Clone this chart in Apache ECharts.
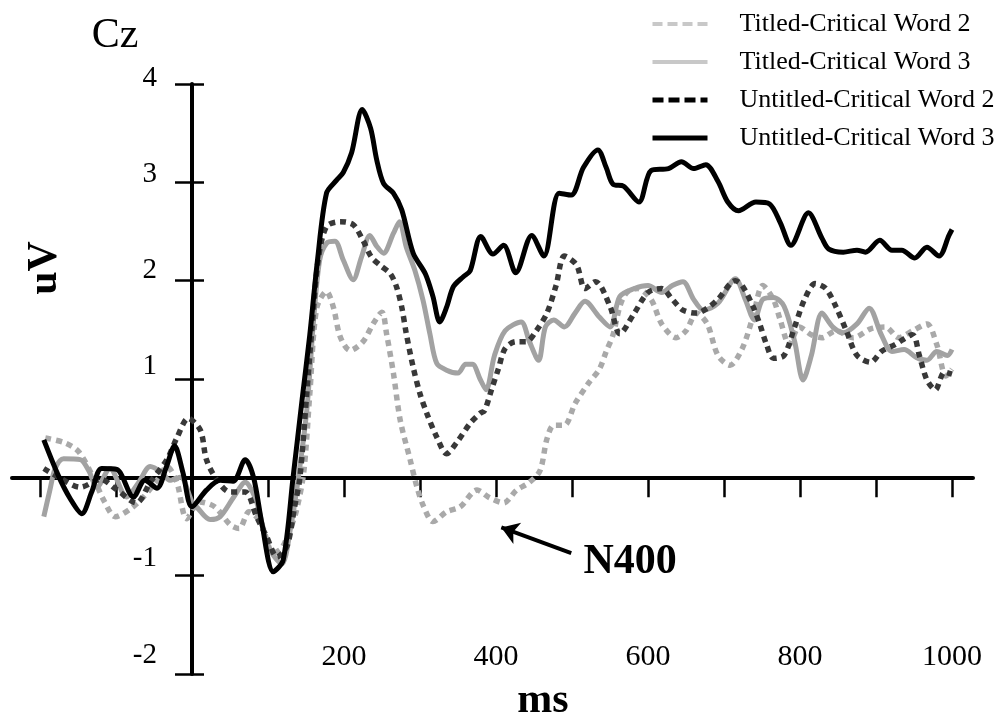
<!DOCTYPE html>
<html>
<head>
<meta charset="utf-8">
<script src="https://cdn.jsdelivr.net/npm/echarts@6/dist/echarts.min.js"></script>
<style>html,body{margin:0;padding:0;background:#fff}#c{width:1007px;height:721px}</style>
</head>
<body>
<div id="c"></div>
<script>
const seriesNames = ['Titled-Critical Word 2', 'Titled-Critical Word 3', 'Untitled-Critical Word 2', 'Untitled-Critical Word 3'];

// Titled-Critical Word 2 (light grey dotted)
const t2Ms = [-193,-167,-149,-130,-115,-101,-81,-64,-46,-33,-20,-7,10,30,50,62,75,90,107,118,128,137,147,155,164,177,186,195,208,225,239,250,256,265,274,287,296,305,317,335,353,375,392,410,427,444,458,467,476,490,504,522,536,545,554,563,572,586,604,618,637,650,664,678,692,708,724,738,751,765,774,786,799,815,829,847,870,893,912,930,948,967,980,992,1000];
const t2Uv = [0.40,0.35,0.26,0.00,-0.25,-0.40,-0.32,-0.20,-0.03,0.11,-0.05,-0.42,-0.25,-0.30,-0.48,-0.52,-0.35,-0.45,-0.77,-0.72,-0.55,-0.35,0.05,0.85,1.72,1.89,1.73,1.43,1.29,1.38,1.57,1.68,1.46,1.06,0.58,0.18,-0.10,-0.30,-0.45,-0.35,-0.30,-0.13,-0.21,-0.26,-0.13,-0.05,0.07,0.39,0.53,0.53,0.75,0.96,1.10,1.28,1.45,1.74,1.88,1.92,1.81,1.56,1.42,1.49,1.67,1.56,1.24,1.14,1.31,1.63,1.95,1.81,1.60,1.35,1.53,1.45,1.42,1.49,1.42,1.51,1.53,1.42,1.49,1.56,1.35,1.03,1.10];

// Titled-Critical Word 3 (grey solid)
const t3Ms = [-195,-187,-180,-169,-147,-136,-125,-108,-86,-70,-55,-40,-29,-15,0,6,24,37,55,70,85,100,118,130,140,151,160,168,177,188,199,212,223,234,243,252,265,273,282,293,304,313,322,335,350,360,369,379,387,398,412,433,444,456,465,476,490,504,517,536,550,563,582,600,618,632,646,660,673,692,715,728,740,751,765,779,793,804,815,829,843,857,875,891,907,921,937,953,967,980,994,1000];
const t3Uv = [-0.40,-0.13,0.09,0.19,0.18,0.07,-0.10,0.09,-0.20,-0.05,0.11,0.05,-0.03,0.00,-0.25,-0.30,-0.43,-0.40,-0.20,-0.05,-0.25,-0.70,-0.88,-0.50,0.00,0.68,1.60,2.21,2.38,2.40,2.21,2.01,2.24,2.46,2.35,2.28,2.48,2.60,2.34,2.11,1.80,1.46,1.16,1.09,1.06,1.15,1.15,1.00,0.89,1.24,1.49,1.58,1.38,1.19,1.53,1.60,1.53,1.67,1.79,1.63,1.53,1.84,1.92,1.95,1.88,1.95,1.99,1.81,1.70,1.77,2.02,1.81,1.60,1.81,1.83,1.74,1.38,0.99,1.24,1.67,1.53,1.47,1.56,1.72,1.45,1.28,1.30,1.22,1.19,1.28,1.24,1.30];

// Untitled-Critical Word 2 (dark dotted)
const u2Ms = [-195,-175,-147,-120,-100,-73,-55,-33,-20,-5,11,19,33,50,70,85,98,112,125,135,142,151,158,166,177,195,212,225,236,247,261,269,276,282,291,300,309,322,335,348,366,379,385,394,403,412,426,440,453,467,479,490,506,517,531,550,563,582,600,618,632,646,664,678,692,715,724,738,747,756,765,779,793,806,820,834,847,861,875,893,907,925,948,957,967,978,990,1000];
const u2Uv = [0.09,0.00,-0.10,-0.02,-0.12,-0.26,-0.05,0.18,0.40,0.60,0.48,0.18,-0.03,-0.15,-0.15,-0.40,-0.60,-0.81,-0.70,-0.30,0.00,0.85,1.53,2.21,2.55,2.60,2.57,2.41,2.24,2.16,2.07,1.94,1.73,1.46,1.12,0.85,0.65,0.41,0.24,0.35,0.55,0.65,0.68,0.89,1.10,1.31,1.38,1.38,1.49,1.67,1.95,2.25,2.16,1.92,1.99,1.74,1.46,1.67,1.88,1.92,1.81,1.70,1.67,1.72,1.81,2.00,1.95,1.74,1.56,1.35,1.21,1.24,1.53,1.81,1.97,1.92,1.74,1.49,1.24,1.17,1.28,1.35,1.45,1.24,0.99,0.89,1.07,1.05];

// Untitled-Critical Word 3 (black solid)
const u3Ms = [-195,-176,-160,-145,-132,-119,-99,-77,-62,-46,-34,-23,-12,0,19,37,54,70,81,92,107,120,133,145,155,165,177,190,199,210,224,235,243,252,265,276,291,307,317,326,335,344,357,366,380,396,410,426,447,463,483,499,515,534,545,554,568,588,604,627,644,660,676,692,705,719,742,760,774,788,811,829,838,857,875,886,905,921,934,951,967,983,996,1000];
const u3Uv = [0.38,0.02,-0.22,-0.37,-0.15,0.09,0.08,-0.20,-0.03,-0.11,0.10,0.32,0.05,-0.30,-0.13,-0.03,-0.04,0.18,0.00,-0.47,-0.96,-0.84,0.00,0.80,1.45,2.20,2.89,3.02,3.10,3.30,3.74,3.55,3.23,2.99,2.89,2.72,2.28,2.07,1.84,1.58,1.73,1.94,2.04,2.10,2.45,2.27,2.36,2.08,2.46,2.25,2.89,2.87,3.15,3.33,3.15,2.98,2.96,2.80,3.12,3.14,3.21,3.14,3.18,3.01,2.80,2.71,2.80,2.78,2.59,2.36,2.69,2.43,2.32,2.29,2.31,2.29,2.41,2.31,2.31,2.23,2.34,2.25,2.46,2.52];

const xLabelValues = [200, 400, 600, 800, 1000];
const yLabelValues = [-2, -1, 1, 2, 3, 4];
const annotationText = 'N400';
const arrowFrom = [499, -0.77];
const arrowTo = [407, -0.51];
const annotationAt = [515, -0.865];

const FONT = '"Liberation Serif", "Times New Roman", serif';
const zip = (ms, uv) => ms.map((m, i) => [m, uv[i]]);
const seriesData = [zip(t2Ms, t2Uv), zip(t3Ms, t3Uv), zip(u2Ms, u2Uv), zip(u3Ms, u3Uv)];
const lineStyles = [
  { color: '#a9a9a9', width: 5.5, type: [6, 5] },
  { color: '#a2a2a2', width: 5, type: 'solid' },
  { color: '#383838', width: 5.5, type: [6, 5] },
  { color: '#000000', width: 5, type: 'solid' }
];
const legendStyles = [
  { color: '#c8c8c8', width: 4, type: [10, 5] },
  { color: '#c8c8c8', width: 4, type: 'solid' },
  { color: '#000000', width: 5, type: [11, 5] },
  { color: '#000000', width: 5, type: 'solid' }
];

const chart = echarts.init(document.getElementById('c'), null, { renderer: 'canvas' });

const series = seriesNames.map((name, i) => ({
  name: name,
  type: 'line',
  xAxisIndex: 0,
  yAxisIndex: 0,
  data: seriesData[i],
  showSymbol: false,
  symbol: 'none',
  smooth: 0.3,
  lineStyle: Object.assign({ cap: 'butt', join: 'round' }, lineStyles[i]),
  itemStyle: { color: lineStyles[i].color },
  z: 2 + i
}));

series[3].markLine = {
  silent: true,
  symbol: ['none', 'arrow'],
  symbolSize: 17,
  label: { show: false },
  lineStyle: { color: '#000', width: 4, type: 'solid' },
  data: [[{ coord: arrowFrom }, { coord: arrowTo }]]
};
series[3].markPoint = {
  silent: true,
  symbol: 'circle',
  symbolSize: 0,
  itemStyle: { color: 'rgba(0,0,0,0)' },
  label: { show: true, position: 'right', distance: 0, formatter: annotationText,
           fontFamily: FONT, fontWeight: 'bold', fontSize: 42, color: '#000' },
  data: [{ coord: annotationAt }]
};

const noBounds = { outerBoundsMode: 'none', containLabel: false };
const option = {
  animation: false,
  backgroundColor: '#ffffff',
  grid: [
    Object.assign({ left: 40, right: 55, top: 84, bottom: 47 }, noBounds),   // data area
    Object.assign({ left: 192, width: 10, top: 78, bottom: 66 }, noBounds),  // y tick labels
    Object.assign({ left: 12, right: 34, top: 84, bottom: 47 }, noBounds),   // long x axis line
    Object.assign({ left: 40, right: 55, top: 84, bottom: 82 }, noBounds)    // x tick labels
  ],
  xAxis: [
    {
      gridIndex: 0, type: 'value', min: -200, max: 1000, interval: 100,
      axisLine: { show: true, onZero: true, onZeroAxisIndex: 0, lineStyle: { color: '#000', width: 4 } },
      axisTick: { show: true, length: 20, lineStyle: { color: '#000', width: 2.5 } },
      axisLabel: { show: false },
      splitLine: { show: false }
    },
    { gridIndex: 1, type: 'value', min: 0, max: 1, show: false },
    {
      gridIndex: 2, type: 'value', min: 0, max: 1,
      axisLine: { show: true, onZero: true, onZeroAxisIndex: 3, lineStyle: { color: '#000', width: 4 } },
      axisTick: { show: false }, axisLabel: { show: false }, splitLine: { show: false }
    },
    {
      gridIndex: 3, type: 'value', min: -200, max: 1000, interval: 100, position: 'bottom',
      axisLine: { show: false, onZero: false }, axisTick: { show: false }, splitLine: { show: false },
      axisLabel: { show: true, margin: 3, color: '#000', fontFamily: FONT, fontSize: 30,
                   formatter: v => xLabelValues.includes(v) ? String(v) : '' }
    }
  ],
  yAxis: [
    {
      gridIndex: 0, type: 'value', min: -2, max: 4, interval: 1, position: 'left',
      axisLine: { show: true, onZero: true, onZeroAxisIndex: 0, lineStyle: { color: '#000', width: 4 } },
      axisTick: { show: true, length: 17, lineStyle: { color: '#000', width: 2.5 } },
      axisLabel: { show: false }, splitLine: { show: false }
    },
    {
      gridIndex: 0, type: 'value', min: -2, max: 4, interval: 1, position: 'left',
      axisLine: { show: false, onZero: true, onZeroAxisIndex: 0 },
      axisTick: { show: true, inside: true, length: 12, lineStyle: { color: '#000', width: 2.5 } },
      axisLabel: { show: false }, splitLine: { show: false }
    },
    {
      gridIndex: 1, type: 'value', min: -2, max: 4, interval: 1, position: 'left',
      axisLine: { show: false }, axisTick: { show: false }, splitLine: { show: false },
      axisLabel: { show: true, margin: 35, color: '#000', fontFamily: FONT, fontSize: 29,
                   formatter: v => yLabelValues.includes(v) ? String(v) : '' }
    },
    { gridIndex: 2, type: 'value', min: -2, max: 4, show: false },
    { gridIndex: 3, type: 'value', min: 0, max: 1, show: false }
  ],
  legend: {
    show: true,
    orient: 'vertical', left: 650, top: 9, padding: 0,
    itemWidth: 55, itemHeight: 14, itemGap: 8,
    selectedMode: false,
    textStyle: { fontFamily: FONT, fontSize: 26, color: '#000', lineHeight: 30, padding: [0, 0, 0, 27] },
    data: seriesNames.map((n, i) => ({
      name: n,
      lineStyle: legendStyles[i],
      itemStyle: { color: 'rgba(0,0,0,0)', borderColor: 'rgba(0,0,0,0)', borderWidth: 0, opacity: 0 }
    }))
  },
  graphic: [
    { type: 'text', x: 115, y: 36, silent: true,
      style: { text: 'Cz', font: '42px ' + FONT, fill: '#000', align: 'center', verticalAlign: 'middle', textAlign: 'center', textVerticalAlign: 'middle' } },
    { type: 'text', x: 45, y: 268, rotation: Math.PI / 2, silent: true,
      style: { text: 'uV', font: 'bold 42px ' + FONT, fill: '#000', align: 'center', verticalAlign: 'middle', textAlign: 'center', textVerticalAlign: 'middle' } },
    { type: 'text', x: 543, y: 701, silent: true,
      style: { text: 'ms', font: 'bold 42px ' + FONT, fill: '#000', align: 'center', verticalAlign: 'middle', textAlign: 'center', textVerticalAlign: 'middle' } }
  ],
  series: series
};

chart.setOption(option);
</script>
</body>
</html>
